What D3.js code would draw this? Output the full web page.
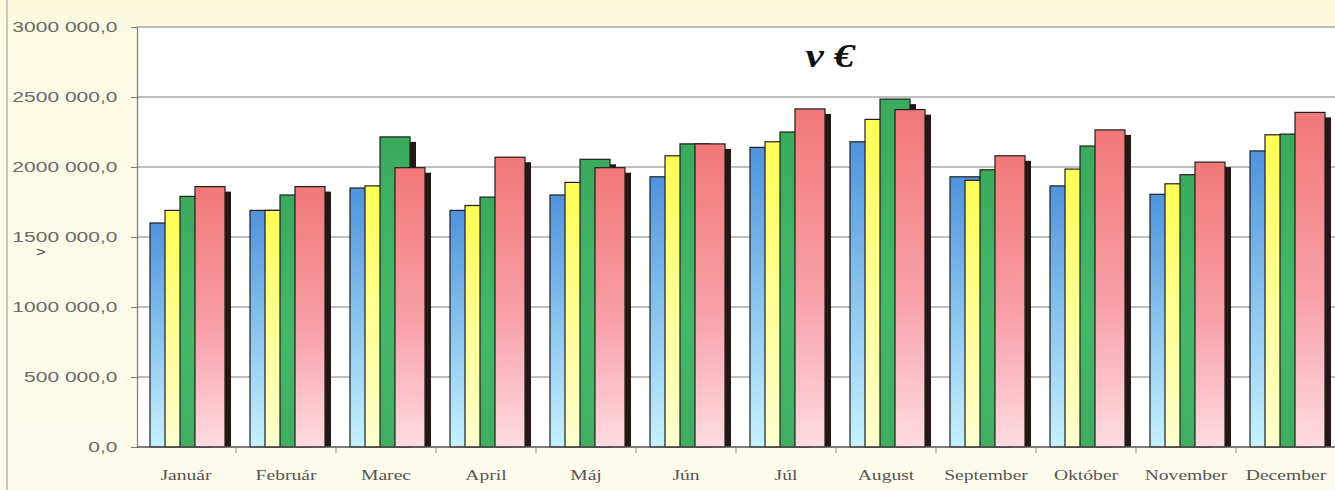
<!DOCTYPE html>
<html>
<head>
<meta charset="utf-8">
<script src="https://cdn.jsdelivr.net/npm/d3@7/dist/d3.min.js"></script>
<style>
  html, body { margin: 0; padding: 0; background: #fdfce9; }
  svg { display: block; }
</style>
</head>
<body>
<svg id="chart" width="1335" height="490"></svg>
<script>
// ---- data ----
const months = ["Január","Február","Marec","April","Máj","Jún","Júl","August","September","Október","November","December"];
const series1 = [1600000,1690000,1850000,1690000,1800000,1930000,2140000,2180000,1930000,1865000,1805000,2115000];
const series2 = [1690000,1690000,1865000,1725000,1890000,2080000,2180000,2340000,1905000,1985000,1880000,2230000];
const series3 = [1790000,1800000,2215000,1785000,2055000,2165000,2250000,2485000,1980000,2150000,1945000,2235000];
const series4 = [1860000,1860000,1995000,2070000,1995000,2165000,2415000,2410000,2080000,2265000,2035000,2390000];
const yTicks = [0,500000,1000000,1500000,2000000,2500000,3000000];
const title = "v €";
const axisTitle = "v";

(function(){
const allSeries = [series1, series2, series3, series4];
const gradStops = [
  ["#4f93dc", "#8fc9f0", "#c6f2ff"],
  ["#ffff55", "#ffff9a", "#ffffd0"],
  ["#3aaa5c", "#45b868", "#3fae60"],
  ["#f27878", "#f8a0a8", "#ffdce2"]
];

const svg = d3.select("#chart");
const W = 1335, H = 490;
const pL = 137, pR = 1336, pT = 27, pB = 447;
const SX = 1.4; // horizontal text stretch of the original

// background
const defs = svg.append("defs");
const bg = defs.append("linearGradient").attr("id","bg").attr("x1",0).attr("y1",0).attr("x2",0).attr("y2",1);
bg.append("stop").attr("offset","0%").attr("stop-color","#fcf9da");
bg.append("stop").attr("offset","6%").attr("stop-color","#fdfbe4");
bg.append("stop").attr("offset","100%").attr("stop-color","#fdfcec");
svg.append("rect").attr("width",W).attr("height",H).attr("fill","url(#bg)");
svg.append("line").attr("x1",7).attr("x2",7).attr("y1",0).attr("y2",H)
  .attr("stroke","#b8b8b0").attr("stroke-width",1.5);

gradStops.forEach((s,i)=>{
  const g = defs.append("linearGradient").attr("id","g"+i).attr("x1",0).attr("y1",0).attr("x2",0).attr("y2",1);
  g.append("stop").attr("offset","0%").attr("stop-color",s[0]);
  g.append("stop").attr("offset","55%").attr("stop-color",s[1]);
  g.append("stop").attr("offset","100%").attr("stop-color",s[2]);
});

// scales
const x = d3.scaleBand().domain(months).range([pL-1, pR]).padding(0);
const y = d3.scaleLinear().domain([0, 3000000]).range([pB, pT]);
const bw = x.bandwidth();
const inner = d3.scaleLinear().domain([0, 1]).range([0, bw]);

// plot area
svg.append("rect").attr("x",pL).attr("y",pT).attr("width",pR-pL).attr("height",pB-pT).attr("fill","#ffffff");

// gridlines
svg.append("g").selectAll("line").data(yTicks.filter(d=>d>0)).join("line")
  .attr("x1",pL).attr("x2",pR).attr("y1",d=>y(d)).attr("y2",d=>y(d))
  .attr("stroke","#808080").attr("stroke-width",1.2);

// y axis
const loc = d3.formatLocale({decimal:",", thousands:" ", grouping:[3,9], currency:["","€"]});
const fmt = loc.format(",.1f");
const yAxis = svg.append("g").attr("transform",`translate(${pL},0)`)
  .call(d3.axisLeft(y).tickValues(yTicks).tickSize(6).tickFormat(fmt));
yAxis.select(".domain").attr("stroke","#7a7a7a").attr("stroke-width",1.2);
yAxis.selectAll(".tick line").attr("stroke","#7a7a7a");
yAxis.selectAll(".tick text")
  .attr("x",-14).attr("transform",`scale(${SX},1)`)
  .attr("fill","#6a6a6a").style("font-family","'Liberation Sans', Arial, sans-serif").style("font-size","15px");

// axis title (rotated)
svg.append("text").attr("transform","translate(45,252) rotate(-90)")
  .attr("text-anchor","middle").attr("fill","#555")
  .style("font-family","'Liberation Sans', Arial, sans-serif").style("font-size","14px").text(axisTitle);

// bars
const offsets = [0.14, 0.29, 0.44, 0.59];
const barW = inner(0.30);
const dx = 6, dy = 5;
allSeries.forEach((vals, si)=>{
  const g = svg.append("g");
  const data = months.map((m,i)=>({m, v: vals[i]}));
  g.selectAll("rect.sh").data(data).join("rect").attr("class","sh")
    .attr("x",d=>x(d.m)+inner(offsets[si])+dx)
    .attr("y",d=>y(d.v)+dy)
    .attr("width",barW)
    .attr("height",d=>Math.max(0, y(0)-y(d.v)-dy))
    .attr("fill","#241816");
  g.selectAll("rect.bar").data(data).join("rect").attr("class","bar")
    .attr("x",d=>x(d.m)+inner(offsets[si]))
    .attr("y",d=>y(d.v))
    .attr("width",barW)
    .attr("height",d=>y(0)-y(d.v))
    .attr("fill",`url(#g${si})`)
    .attr("stroke","#1e1e1e").attr("stroke-width",1.2);
});

// x axis baseline & ticks
svg.append("line").attr("x1",pL).attr("x2",pR).attr("y1",y(0)).attr("y2",y(0))
  .attr("stroke","#555").attr("stroke-width",1.5);
svg.append("g").selectAll("line").data(months.slice(1)).join("line")
  .attr("x1",d=>x(d)).attr("x2",d=>x(d)).attr("y1",y(0)).attr("y2",y(0)+6)
  .attr("stroke","#888");
svg.append("g").selectAll("text").data(months).join("text")
  .attr("transform",d=>`translate(${x(d)+bw/2},${y(0)+33}) scale(${SX},1)`)
  .attr("text-anchor","middle").attr("fill","#555")
  .style("font-family","'Liberation Serif', 'Times New Roman', serif").style("font-size","14px")
  .text(d=>d);

// title
svg.append("text").attr("transform",`translate(830,67) scale(1.25,1)`)
  .attr("text-anchor","middle").attr("fill","#111")
  .style("font-family","'Liberation Serif', 'Times New Roman', serif")
  .style("font-size","33px").style("font-weight","bold").style("font-style","italic")
  .text(title);
})();
</script>
</body>
</html>
